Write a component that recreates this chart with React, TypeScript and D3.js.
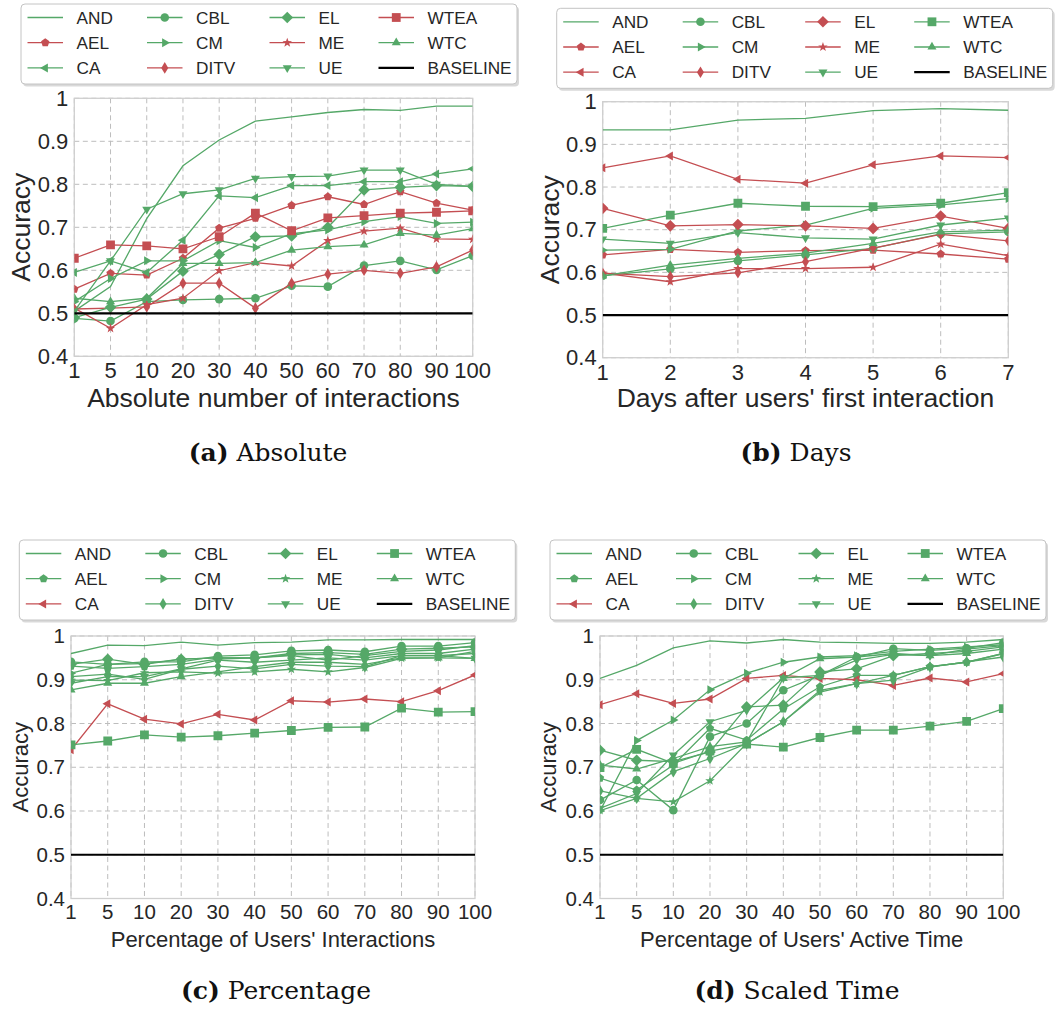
import * as d3 from 'd3'
import { useEffect, useRef } from 'react'

const GREEN = '#55a868'
const RED = '#c44e52'
const TEXT = '#262626'

// legend order (matplotlib fills the 4 columns top to bottom)
const seriesNames = ['AND', 'AEL', 'CA', 'CBL', 'CM', 'DITV', 'EL', 'ME', 'UE', 'WTEA', 'WTC']
const markerOf: Record<string, string> = {
    AND: 'none', AEL: 'pentagon', CA: 'triLeft', CBL: 'circle', CM: 'triRight', DITV: 'thinDiamond',
    EL: 'diamond', ME: 'star', UE: 'triDown', WTEA: 'square', WTC: 'triUp'
}

const interactionTicks = ['1', '5', '10', '20', '30', '40', '50', '60', '70', '80', '90', '100']
const dayTicks = ['1', '2', '3', '4', '5', '6', '7']
const accuracyTicks = [0.4, 0.5, 0.6, 0.7, 0.8, 0.9, 1]
const baselineValue = 0.5

// (a) absolute number of interactions
const absAND = [0.505, 0.562, 0.72, 0.843, 0.903, 0.947, 0.957, 0.967, 0.974, 0.972, 0.982, 0.982]
const absAEL = [0.556, 0.593, 0.589, 0.628, 0.698, 0.721, 0.751, 0.771, 0.753, 0.783, 0.756, 0.740]
const absCA = [0.595, 0.622, 0.595, 0.670, 0.773, 0.769, 0.797, 0.797, 0.806, 0.806, 0.824, 0.836]
const absCBL = [0.488, 0.482, 0.527, 0.531, 0.533, 0.535, 0.564, 0.562, 0.611, 0.622, 0.601, 0.634]
const absCM = [0.527, 0.581, 0.622, 0.622, 0.669, 0.653, 0.685, 0.694, 0.713, 0.725, 0.709, 0.712]
const absDITV = [0.510, 0.512, 0.515, 0.570, 0.570, 0.512, 0.570, 0.591, 0.600, 0.593, 0.608, 0.647]
const absEL = [0.490, 0.514, 0.533, 0.598, 0.637, 0.678, 0.680, 0.700, 0.787, 0.793, 0.797, 0.795]
const absME = [0.512, 0.465, 0.520, 0.535, 0.599, 0.618, 0.610, 0.669, 0.691, 0.698, 0.673, 0.672]
const absUE = [0.505, 0.622, 0.742, 0.778, 0.787, 0.814, 0.818, 0.819, 0.833, 0.833, 0.800, 0.795]
const absWTEA = [0.628, 0.659, 0.657, 0.650, 0.678, 0.733, 0.692, 0.722, 0.727, 0.733, 0.735, 0.738]
const absWTC = [0.535, 0.527, 0.535, 0.616, 0.616, 0.618, 0.647, 0.655, 0.659, 0.686, 0.682, 0.697]

// (b) days after first interaction
const dayAND = [0.934, 0.934, 0.957, 0.961, 0.979, 0.984, 0.980]
const dayAEL = [0.641, 0.654, 0.647, 0.651, 0.652, 0.643, 0.631]
const dayCA = [0.845, 0.873, 0.818, 0.809, 0.852, 0.873, 0.869]
const dayCBL = [0.592, 0.608, 0.627, 0.641, 0.656, 0.690, 0.695]
const dayCM = [0.652, 0.654, 0.697, 0.711, 0.750, 0.758, 0.773]
const dayDITV = [0.598, 0.590, 0.599, 0.625, 0.657, 0.689, 0.674]
const dayEL = [0.750, 0.709, 0.712, 0.709, 0.703, 0.732, 0.703]
const dayME = [0.598, 0.578, 0.609, 0.609, 0.612, 0.666, 0.639]
const dayUE = [0.678, 0.668, 0.693, 0.681, 0.678, 0.711, 0.727]
const dayWTEA = [0.703, 0.734, 0.762, 0.755, 0.754, 0.762, 0.787]
const dayWTC = [0.592, 0.617, 0.633, 0.645, 0.668, 0.695, 0.699]

// (c) percentage of users' interactions
const pctAND = [0.960, 0.979, 0.978, 0.986, 0.979, 0.985, 0.986, 0.991, 0.991, 0.992, 0.992, 0.992]
const pctAEL = [0.931, 0.926, 0.930, 0.935, 0.947, 0.950, 0.955, 0.945, 0.955, 0.965, 0.968, 0.978]
const pctCA = [0.740, 0.845, 0.810, 0.799, 0.821, 0.808, 0.852, 0.849, 0.856, 0.850, 0.875, 0.911]
const pctCBL = [0.941, 0.935, 0.941, 0.941, 0.954, 0.957, 0.966, 0.968, 0.964, 0.977, 0.977, 0.985]
const pctCM = [0.915, 0.935, 0.937, 0.947, 0.950, 0.950, 0.957, 0.958, 0.950, 0.960, 0.960, 0.970]
const pctDITV = [0.907, 0.913, 0.901, 0.924, 0.931, 0.925, 0.935, 0.931, 0.930, 0.955, 0.955, 0.960]
const pctEL = [0.935, 0.947, 0.935, 0.947, 0.950, 0.950, 0.960, 0.962, 0.958, 0.970, 0.972, 0.975]
const pctME = [0.899, 0.898, 0.916, 0.918, 0.915, 0.918, 0.924, 0.918, 0.928, 0.949, 0.950, 0.965]
const pctUE = [0.892, 0.907, 0.907, 0.925, 0.945, 0.940, 0.945, 0.950, 0.945, 0.955, 0.955, 0.949]
const pctWTEA = [0.751, 0.760, 0.774, 0.769, 0.772, 0.778, 0.784, 0.791, 0.792, 0.835, 0.826, 0.827]
const pctWTC = [0.877, 0.892, 0.892, 0.907, 0.918, 0.930, 0.940, 0.940, 0.935, 0.950, 0.950, 0.949]

// (d) percentage of users' active time
const timeAND = [0.903, 0.933, 0.973, 0.989, 0.984, 0.992, 0.986, 0.985, 0.983, 0.983, 0.986, 0.992]
const timeAEL = [0.675, 0.648, 0.705, 0.789, 0.762, 0.833, 0.884, 0.910, 0.910, 0.930, 0.940, 0.960]
const timeCA = [0.843, 0.868, 0.846, 0.856, 0.903, 0.910, 0.903, 0.900, 0.887, 0.904, 0.895, 0.914]
const timeCBL = [0.625, 0.671, 0.602, 0.770, 0.800, 0.876, 0.910, 0.952, 0.971, 0.967, 0.972, 0.985]
const timeCM = [0.600, 0.761, 0.808, 0.877, 0.915, 0.940, 0.952, 0.955, 0.965, 0.970, 0.975, 0.980]
const timeDITV = [0.646, 0.629, 0.690, 0.720, 0.754, 0.804, 0.876, 0.891, 0.899, 0.929, 0.941, 0.952]
const timeEL = [0.739, 0.716, 0.713, 0.735, 0.838, 0.842, 0.918, 0.925, 0.955, 0.960, 0.965, 0.975]
const timeME = [0.601, 0.629, 0.621, 0.669, 0.754, 0.804, 0.872, 0.891, 0.910, 0.930, 0.940, 0.960]
const timeUE = [0.606, 0.640, 0.728, 0.804, 0.830, 0.904, 0.910, 0.945, 0.958, 0.955, 0.970, 0.978]
const timeWTEA = [0.699, 0.741, 0.709, 0.737, 0.753, 0.746, 0.768, 0.785, 0.785, 0.794, 0.805, 0.834]
const timeWTC = [0.705, 0.696, 0.720, 0.747, 0.758, 0.903, 0.948, 0.952, 0.960, 0.955, 0.960, 0.970]

const panels = [
    {
        ticks: interactionTicks,
        data: { AND: absAND, AEL: absAEL, CA: absCA, CBL: absCBL, CM: absCM, DITV: absDITV, EL: absEL, ME: absME, UE: absUE, WTEA: absWTEA, WTC: absWTC },
        red: ['AEL', 'DITV', 'ME', 'WTEA'],
        plot: { l: 74.3, r: 472.7, t: 98.3, b: 356.3 },
        legend: { x: 21, y: 4 },
        tickFont: 22, labelFont: 26.5,
        xLabel: 'Absolute number of interactions', xLabelY: 407, yLabelX: 20,
        caption: ['(a)', 'Absolute'], captionX: 268, captionY: 461
    },
    {
        ticks: dayTicks,
        data: { AND: dayAND, AEL: dayAEL, CA: dayCA, CBL: dayCBL, CM: dayCM, DITV: dayDITV, EL: dayEL, ME: dayME, UE: dayUE, WTEA: dayWTEA, WTC: dayWTC },
        red: ['AEL', 'CA', 'DITV', 'EL', 'ME'],
        plot: { l: 602.7, r: 1008.3, t: 101.7, b: 357.7 },
        legend: { x: 556.7, y: 8.3 },
        tickFont: 22, labelFont: 26.5,
        xLabel: "Days after users' first interaction", xLabelY: 407, yLabelX: 549,
        caption: ['(b)', 'Days'], captionX: 796, captionY: 461
    },
    {
        ticks: interactionTicks,
        data: { AND: pctAND, AEL: pctAEL, CA: pctCA, CBL: pctCBL, CM: pctCM, DITV: pctDITV, EL: pctEL, ME: pctME, UE: pctUE, WTEA: pctWTEA, WTC: pctWTC },
        red: ['CA'],
        plot: { l: 71, r: 475, t: 636, b: 898.5 },
        legend: { x: 19.3, y: 540 },
        tickFont: 20.5, labelFont: 22,
        xLabel: "Percentage of Users' Interactions", xLabelY: 947, yLabelX: 20,
        caption: ['(c)', 'Percentage'], captionX: 276, captionY: 999
    },
    {
        ticks: interactionTicks,
        data: { AND: timeAND, AEL: timeAEL, CA: timeCA, CBL: timeCBL, CM: timeCM, DITV: timeDITV, EL: timeEL, ME: timeME, UE: timeUE, WTEA: timeWTEA, WTC: timeWTC },
        red: ['CA'],
        plot: { l: 600, r: 1003.3, t: 636, b: 898.5 },
        legend: { x: 550, y: 540 },
        tickFont: 20.5, labelFont: 22,
        xLabel: "Percentage of Users' Active Time", xLabelY: 947, yLabelX: 548,
        caption: ['(d)', 'Scaled Time'], captionX: 797, captionY: 999
    }
]

// marker outlines centred on 0,0
const polygon = (pts: number[][]) => 'M' + pts.map(p => p[0].toFixed(2) + ',' + p[1].toFixed(2)).join('L') + 'Z'
const regular = (n: number, r: number, rot: number) =>
    d3.range(n).map(i => {
        const a = rot + (i * 2 * Math.PI) / n
        return [r * Math.cos(a), r * Math.sin(a)]
    })

const markerPath = (kind: string) => {
    switch (kind) {
        case 'circle': return 'M4.3,0A4.3,4.3 0 1 1 -4.3,0A4.3,4.3 0 1 1 4.3,0Z'
        case 'square': return 'M-4.4,-4.4H4.4V4.4H-4.4Z'
        case 'diamond': return 'M0,-5.8L5.8,0L0,5.8L-5.8,0Z'
        case 'thinDiamond': return 'M0,-5.8L3.5,0L0,5.8L-3.5,0Z'
        case 'triUp': return polygon(regular(3, 5.2, -Math.PI / 2))
        case 'triDown': return polygon(regular(3, 5.2, Math.PI / 2))
        case 'triLeft': return polygon(regular(3, 5.2, Math.PI))
        case 'triRight': return polygon(regular(3, 5.2, 0))
        case 'pentagon': return polygon(regular(5, 4.4, -Math.PI / 2))
        case 'star': return polygon(d3.range(10).map(i => {
            const a = -Math.PI / 2 + (i * Math.PI) / 5
            const r = i % 2 === 0 ? 5 : 2
            return [r * Math.cos(a), r * Math.sin(a)]
        }))
        default: return ''
    }
}

const drawPanel = (svg: any, p: any, idx: number) => {
    const { l, r, t, b } = p.plot
    const x = d3.scalePoint().domain(p.ticks).range([l, r])
    const y = d3.scaleLinear().domain([0.4, 1]).range([b, t])
    const colorOf = (name: string) => (p.red.includes(name) ? RED : GREEN)

    const g = svg.append('g')

    g.append('rect').attr('x', l).attr('y', t).attr('width', r - l).attr('height', b - t).attr('fill', '#fff')

    // dashed grid
    g.append('g').selectAll('line.h').data(accuracyTicks).join('line')
        .attr('x1', l).attr('x2', r).attr('y1', (d: number) => y(d)).attr('y2', (d: number) => y(d))
        .attr('stroke', '#bdbdbd').attr('stroke-width', 1).attr('stroke-dasharray', '5,3.5')
    g.append('g').selectAll('line.v').data(p.ticks).join('line')
        .attr('x1', (d: string) => x(d)).attr('x2', (d: string) => x(d)).attr('y1', t).attr('y2', b)
        .attr('stroke', '#bdbdbd').attr('stroke-width', 1).attr('stroke-dasharray', '5,3.5')

    g.append('rect').attr('x', l).attr('y', t).attr('width', r - l).attr('height', b - t)
        .attr('fill', 'none').attr('stroke', '#cfcfcf').attr('stroke-width', 1.3)

    const clipId = 'clip-' + idx
    svg.append('clipPath').attr('id', clipId)
        .append('rect').attr('x', l).attr('y', t).attr('width', r - l).attr('height', b - t)

    const plotG = g.append('g').attr('clip-path', `url(#${clipId})`)

    const line = d3.line<number>()
        .x((_d, i) => x(p.ticks[i]) as number)
        .y(d => y(d))

    seriesNames.forEach(name => {
        const values: number[] = p.data[name]
        const color = colorOf(name)
        plotG.append('path')
            .datum(values)
            .attr('fill', 'none')
            .attr('stroke', color)
            .attr('stroke-width', 1.3)
            .attr('d', line)
        const kind = markerOf[name]
        if (kind !== 'none') {
            plotG.append('g').selectAll('path').data(values).join('path')
                .attr('transform', (d: number, i: number) => `translate(${x(p.ticks[i])},${y(d)})`)
                .attr('d', markerPath(kind))
                .attr('fill', color)
        }
    })

    plotG.append('line')
        .attr('x1', l).attr('x2', r).attr('y1', y(baselineValue)).attr('y2', y(baselineValue))
        .attr('stroke', '#000').attr('stroke-width', 2.2)

    // tick labels
    const font = 'Liberation Sans, Arial, sans-serif'
    g.append('g').selectAll('text').data(accuracyTicks).join('text')
        .attr('x', l - 6).attr('y', (d: number) => y(d)).attr('dy', '0.35em')
        .attr('text-anchor', 'end').attr('font-family', font).attr('font-size', p.tickFont).attr('fill', TEXT)
        .text((d: number) => (d === 1 ? '1' : d.toFixed(1)))
    g.append('g').selectAll('text').data(p.ticks).join('text')
        .attr('x', (d: string) => x(d)).attr('y', b + p.tickFont * 1.0)
        .attr('text-anchor', 'middle').attr('font-family', font).attr('font-size', p.tickFont).attr('fill', TEXT)
        .text((d: string) => d)

    // axis labels
    g.append('text')
        .attr('x', (l + r) / 2).attr('y', p.xLabelY)
        .attr('text-anchor', 'middle').attr('font-family', font).attr('font-size', p.labelFont).attr('fill', TEXT)
        .text(p.xLabel)
    g.append('text')
        .attr('transform', `translate(${p.yLabelX + p.labelFont * 0.36},${(t + b) / 2}) rotate(-90)`)
        .attr('text-anchor', 'middle').attr('font-family', font).attr('font-size', p.labelFont).attr('fill', TEXT)
        .text('Accuracy')

    // legend
    const lg = g.append('g').attr('transform', `translate(${p.legend.x},${p.legend.y})`)
    lg.append('rect').attr('x', 2).attr('y', 2.5).attr('width', 496).attr('height', 80).attr('rx', 4)
        .attr('fill', '#d9d9d9')
    lg.append('rect').attr('x', 0).attr('y', 0).attr('width', 496).attr('height', 80).attr('rx', 4)
        .attr('fill', '#fff').attr('stroke', '#c4c4c4').attr('stroke-width', 1)
    const colStarts = [6.5, 126, 248.5, 357.5]
    const entries = [...seriesNames, 'BASELINE']
    entries.forEach((name, i) => {
        const cx = colStarts[Math.floor(i / 3)]
        const cy = 13.5 + (i % 3) * 25.2
        const isBase = name === 'BASELINE'
        const color = isBase ? '#000' : colorOf(name)
        lg.append('line').attr('x1', cx).attr('x2', cx + 35.5).attr('y1', cy).attr('y2', cy)
            .attr('stroke', color).attr('stroke-width', isBase ? 2.2 : 1.3)
        if (!isBase && markerOf[name] !== 'none') {
            lg.append('path').attr('transform', `translate(${cx + 17.75},${cy})`)
                .attr('d', markerPath(markerOf[name])).attr('fill', color)
        }
        lg.append('text').attr('x', cx + 49).attr('y', cy).attr('dy', '0.36em')
            .attr('font-family', font).attr('font-size', 17.2).attr('fill', TEXT)
            .text(name)
    })

    // caption
    const cap = svg.append('text')
        .attr('x', p.captionX).attr('y', p.captionY)
        .attr('text-anchor', 'middle')
        .attr('font-family', 'DejaVu Serif, serif')
        .attr('font-size', 25).attr('fill', '#111')
    cap.append('tspan').attr('font-weight', 'bold').text(p.caption[0])
    cap.append('tspan').text(' ' + p.caption[1])
}

const App = () => {
    const ref = useRef<SVGSVGElement>(null)

    useEffect(() => {
        const svg = d3.select(ref.current)
        svg.selectAll('*').remove()
        panels.forEach((p, i) => drawPanel(svg, p, i))
    }, [])

    return (
        <svg
            ref={ref}
            width={1055}
            height={1010}
            style={{ position: 'absolute', left: 0, top: 0, background: '#fff' }}
        />
    )
}

export default App
